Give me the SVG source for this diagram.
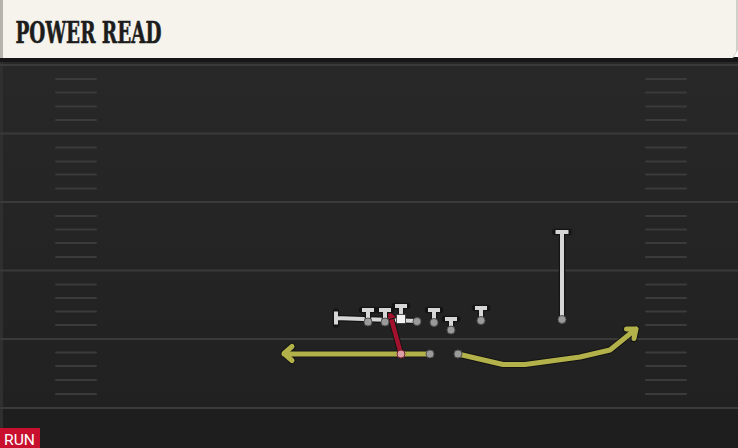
<svg xmlns="http://www.w3.org/2000/svg" width="738" height="448" viewBox="0 0 738 448">
  <defs>
    <linearGradient id="fieldGrad" x1="0" y1="0" x2="0" y2="1">
      <stop offset="0" stop-color="#282828"/>
      <stop offset="1" stop-color="#202020"/>
    </linearGradient>
    <style>
      .yard { stroke: #3a3a3a; stroke-width: 2; }
      .hash { stroke: #3b3b3b; stroke-width: 2; stroke-linecap: round; }
      .out { fill: none; stroke: #141414; stroke-linecap: round; stroke-linejoin: round; }
      .gray { fill: none; stroke: #d6d6d6; stroke-width: 4; stroke-linecap: butt; stroke-linejoin: round; }
      .yel { fill: none; stroke: #b3b14a; stroke-width: 5; stroke-linecap: round; stroke-linejoin: round; }
      .red { fill: none; stroke: #a3122c; stroke-width: 4.5; stroke-linecap: round; stroke-linejoin: round; }
      .dot { fill: #9a9a9a; stroke: #505050; stroke-width: 1; }
      .title { font-family: "DejaVu Serif", serif; font-weight: bold; font-size: 29px; fill: #1c1c1c; stroke: #1c1c1c; stroke-width: 0.6; }
      .tag { font-family: Roboto, "Liberation Sans", sans-serif; font-size: 15px; fill: #ffffff; }
    </style>
  </defs>

  <!-- field -->
  <rect x="0" y="58" width="738" height="390" fill="url(#fieldGrad)"/>
  <rect x="0" y="408" width="738" height="40" fill="#1e1e1e"/>
  <rect x="0" y="58" width="3" height="390" fill="#2f2f2f"/>

  <g id="yard-lines">
    <line class="yard" x1="0" y1="65" x2="738" y2="65"/>
    <line class="yard" x1="0" y1="133.5" x2="738" y2="133.5"/>
    <line class="yard" x1="0" y1="202" x2="738" y2="202"/>
    <line class="yard" x1="0" y1="270.5" x2="738" y2="270.5"/>
    <line class="yard" x1="0" y1="339" x2="738" y2="339"/>
    <line class="yard" x1="0" y1="408" x2="738" y2="408"/>
  </g>

  <g id="hash-marks">
    <path class="hash" d="M56 79H96M56 92.5H96M56 106.5H96M56 120H96
      M56 147.5H96M56 161.5H96M56 174.5H96M56 188.5H96
      M56 216H96M56 229.5H96M56 243H96M56 257H96
      M56 284.5H96M56 298H96M56 311.5H96M56 325H96
      M56 352.5H96M56 366H96M56 380H96M56 394H96
      M646 79H686M646 92.5H686M646 106.5H686M646 120H686
      M646 147.5H686M646 161.5H686M646 174.5H686M646 188.5H686
      M646 216H686M646 229.5H686M646 243H686M646 257H686
      M646 284.5H686M646 298H686M646 311.5H686M646 325H686
      M646 352.5H686M646 366H686M646 380H686M646 394H686"/>
  </g>

  <!-- header -->
  <g id="header">
    <rect x="0" y="57" width="738" height="5" fill="#161616"/>
    <path d="M0 0H738V50L733 58H0Z" fill="#f5f3ec"/>
    <rect x="0" y="0" width="3" height="58" fill="#b4b4ac"/>
    <path d="M736 0H738V50L733 58H732L736 52Z" fill="#d0cfc8"/>
    <text class="title" x="15.5" y="42.5" textLength="146" lengthAdjust="spacingAndGlyphs">POWER READ</text>
  </g>

  <!-- connectors / routes -->
  <g id="connectors">
    <!-- block line -->
    <path class="out" stroke-width="6.5" d="M417 321L336 318M336 311.5V324.5"/>
    <path class="gray" d="M417 321L336 318M336 311.5V324.5"/>
    <!-- slot vertical -->
    <path class="out" stroke-width="6.5" d="M562 319V232M555.5 232H568.5"/>
    <path class="gray" d="M562 319V232M555.5 232H568.5"/>
    <!-- left yellow -->
    <path class="out" stroke-width="7" d="M430 354H284M292 346.5L284 353.5L292 360.5"/>
    <path class="yel" d="M430 354H284M292 346.5L284 353.5L292 360.5"/>
    <!-- right yellow -->
    <path class="out" stroke-width="7" d="M458 354L503 364.5L525 364.5L580 357L610 350L636 329M626.5 329L636 329L634 338.5"/>
    <path class="yel" d="M458 354L503 364.5L525 364.5L580 357L610 350L636 329M626.5 329L636 329L634 338.5"/>
    <!-- red QB read -->
    <path class="out" stroke-width="6.5" d="M401 354L391 318"/>
    <path class="red" d="M401 354L391 318"/>
    <path d="M389 310.5L383.8 321L396.5 317.5Z" fill="#a3122c" stroke="#141414" stroke-width="1" stroke-linejoin="round"/>
  </g>

  <!-- players -->
  <g id="player-1">
    <path class="out" stroke-width="6.5" d="M368 322V310M362 310H374"/>
    <path class="gray" d="M368 322V310M362 310H374"/>
    <circle class="dot" cx="368" cy="322" r="4"/>
  </g>
  <g id="player-2">
    <path class="out" stroke-width="6.5" d="M385 322V310M379 310H391"/>
    <path class="gray" d="M385 322V310M379 310H391"/>
    <circle class="dot" cx="385" cy="322" r="4"/>
  </g>
  <g id="player-center">
    <path class="out" stroke-width="6.5" d="M401 318V306M395 306H407"/>
    <path class="gray" d="M401 318V306M395 306H407"/>
    <rect x="396.5" y="314.5" width="9" height="9" fill="#f4f4f4" stroke="#333" stroke-width="0.8"/>
  </g>
  <g id="player-4">
    <circle class="dot" cx="417" cy="321.5" r="4"/>
  </g>
  <g id="player-5">
    <path class="out" stroke-width="6.5" d="M434 322.5V310M428 310H440"/>
    <path class="gray" d="M434 322.5V310M428 310H440"/>
    <circle class="dot" cx="434" cy="322.5" r="4"/>
  </g>
  <g id="player-te">
    <path class="out" stroke-width="6.5" d="M451 330V319M445 319H457"/>
    <path class="gray" d="M451 330V319M445 319H457"/>
    <circle class="dot" cx="451" cy="330" r="4"/>
  </g>
  <g id="player-wing">
    <path class="out" stroke-width="6.5" d="M481 320.5V308M475 308H487"/>
    <path class="gray" d="M481 320.5V308M475 308H487"/>
    <circle class="dot" cx="481" cy="320.5" r="4"/>
  </g>
  <g id="player-slot">
    <circle class="dot" cx="562" cy="319.5" r="4"/>
  </g>
  <g id="player-qb">
    <circle cx="401" cy="354" r="4" fill="#d9a0a8" stroke="#7a2030" stroke-width="1"/>
  </g>
  <g id="player-rb">
    <circle class="dot" cx="430" cy="354" r="4"/>
  </g>
  <g id="player-back">
    <circle class="dot" cx="458" cy="354" r="4"/>
  </g>

  <g id="run-tag">
    <rect x="0" y="428" width="40" height="20" fill="#c8102e"/>
    <text class="tag" x="4" y="444.5" textLength="31" lengthAdjust="spacingAndGlyphs">RUN</text>
  </g>
</svg>
